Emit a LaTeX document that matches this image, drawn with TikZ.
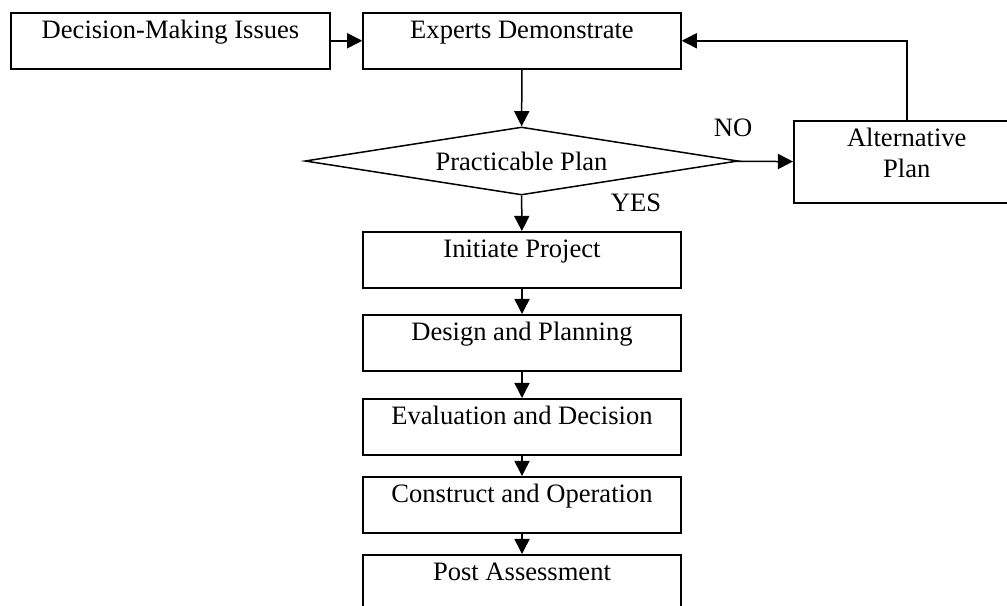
\documentclass[tikz,border=0pt]{standalone}
\usepackage{fontspec}
\setmainfont{Liberation Serif}
\usetikzlibrary{shapes.geometric,arrows.meta}
\newlength{\du}
\setlength{\du}{4.630000\unitlength}

\begin{document}
\begin{tikzpicture}[even odd rule,
  every node/.style={font=\fontsize{12.3pt}{14.3pt}\selectfont,text=dialinecolor},
  stepbox/.style={draw=dialinecolor,fill=diafillcolor,rectangle,anchor=north,inner sep=0pt,
    minimum width=31.8\du,text height=2.6\du,text depth=3.0\du},
  choice/.style={draw=dialinecolor,fill=diafillcolor,diamond,aspect=6.4,inner sep=0pt,
    minimum width=43.3\du,minimum height=6.8\du},
  altbox/.style={draw=dialinecolor,fill=diafillcolor,rectangle,anchor=north west,align=center,
    inner sep=0pt,minimum width=22.6\du,text height=5.7\du,text depth=2.5\du},
  flowarrow/.style={-{Triangle[length=7pt,width=7pt]}}]
\pgftransformxscale{1.000000}
\pgftransformyscale{-1.000000}
\definecolor{dialinecolor}{rgb}{0.000000, 0.000000, 0.000000}
\definecolor{diafillcolor}{rgb}{1.000000, 1.000000, 1.000000}
\pgfsetlinewidth{0.150000\du}
\useasboundingbox (0.000000\du,0.000000\du) rectangle (100.700000\du,60.500000\du);
\clip (0.000000\du,0.000000\du) rectangle (100.700000\du,60.500000\du);
% top row
\node[stepbox,minimum width=31.9\du] (issues) at (17.050000\du,1.200000\du){Decision-Making Issues};
\node[stepbox] (experts) at (52.200000\du,1.200000\du){Experts Demonstrate};
% decision
\node[choice] (practicable) at (52.150000\du,16.100000\du){Practicable Plan};
\node[altbox] (alt) at (79.300000\du,12.000000\du){Alternative\\Plan};
\node[inner sep=0pt] (nolabel) at (73.300000\du,12.800000\du){NO};
\node[inner sep=0pt] (yeslabel) at (63.600000\du,20.300000\du){YES};
% project stages
\node[stepbox] (initiate) at (52.200000\du,23.100000\du){Initiate Project};
\node[stepbox] (design) at (52.200000\du,31.400000\du){Design and Planning};
\node[stepbox] (evaluation) at (52.200000\du,39.800000\du){Evaluation and Decision};
\node[stepbox] (construct) at (52.200000\du,47.600000\du){Construct and Operation};
\node[stepbox] (post) at (52.200000\du,55.400000\du){Post Assessment};
% connectors
\draw[flowarrow] (issues) -- (experts);
\draw[flowarrow] (experts) -- (practicable);
\draw[flowarrow] (practicable) -- (alt);
\draw[flowarrow] (alt.north) |- (experts.east);
\draw[flowarrow] (practicable) -- (initiate);
\draw[flowarrow] (initiate) -- (design);
\draw[flowarrow] (design) -- (evaluation);
\draw[flowarrow] (evaluation) -- (construct);
\draw[flowarrow] (construct) -- (post);
\end{tikzpicture}
\end{document}
